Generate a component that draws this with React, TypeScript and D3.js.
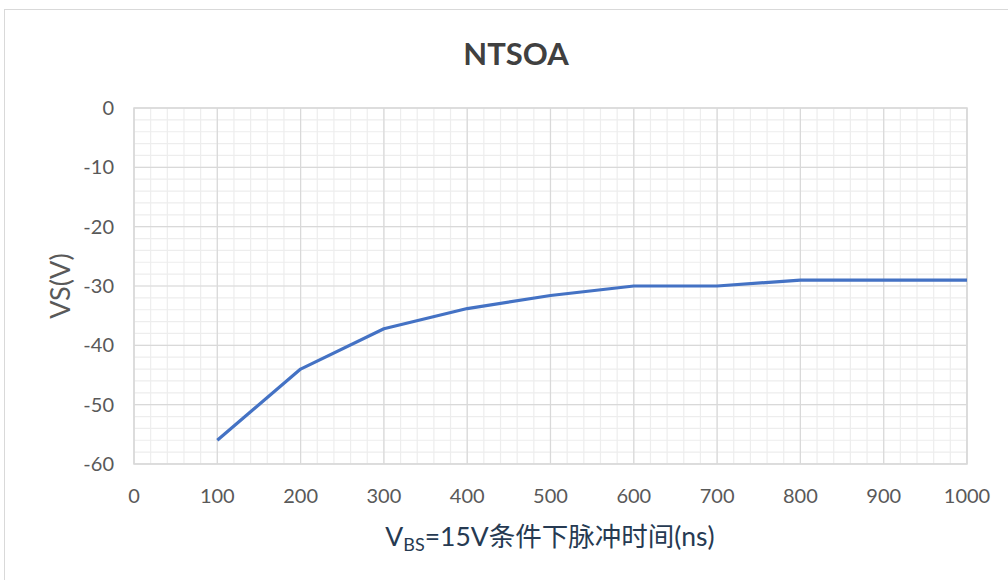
import React from "react";
import * as d3 from "d3";

const xValues = [100, 200, 300, 400, 500, 600, 700, 800, 900, 1000];
const vsValues = [-56, -44, -37.2, -33.8, -31.6, -30, -30, -29, -29, -29];
const xTicks = [0, 100, 200, 300, 400, 500, 600, 700, 800, 900, 1000];
const yTicks = [0, -10, -20, -30, -40, -50, -60];

export default function App() {
  const W = 1008, H = 580;
  const left = 134, right = 967, top = 108, bottom = 464;
  const x = d3.scaleLinear().domain([0, 1000]).range([left, right]);
  const y = d3.scaleLinear().domain([0, -60]).range([top, bottom]);
  const minorX = d3.range(0, 1001, 20);
  const minorY = d3.range(0, -61, -2);
  const line = d3.line<number>().x((_, i) => x(xValues[i])).y((d) => y(d));
  const font = "Lato, 'Open Sans', sans-serif";
  return (
    <svg width={W} height={H} style={{ position: "absolute", left: 0, top: 0 }}>
      <rect x={0} y={0} width={W} height={H} fill="#fff" />
      <rect x={4.5} y={9.5} width={W + 10} height={H + 10} fill="#fff" stroke="#d9d9d9" strokeWidth={1} />
      {minorX.map((v) => (
        <line key={"mx" + v} x1={x(v)} x2={x(v)} y1={top} y2={bottom} stroke="#ededed" strokeWidth={1.2} />
      ))}
      {minorY.map((v) => (
        <line key={"my" + v} x1={left} x2={right} y1={y(v)} y2={y(v)} stroke="#ededed" strokeWidth={1.2} />
      ))}
      {xTicks.map((v) => (
        <line key={"gx" + v} x1={x(v)} x2={x(v)} y1={top} y2={bottom} stroke="#d9d9d9" strokeWidth={1.2} />
      ))}
      {yTicks.map((v) => (
        <line key={"gy" + v} x1={left} x2={right} y1={y(v)} y2={y(v)} stroke="#d9d9d9" strokeWidth={1.2} />
      ))}
      <rect x={left} y={top} width={right - left} height={bottom - top} fill="none" stroke="#d9d9d9" strokeWidth={1.5} />
      <path d={line(vsValues) || ""} fill="none" stroke="#4472C4" strokeWidth={3.2} strokeLinejoin="round" />
      {xTicks.map((v) => (
        <text key={"tx" + v} x={x(v)} y={503} textAnchor="middle" fontFamily={font} fontSize={20} fill="#595959">
          {v}
        </text>
      ))}
      {yTicks.map((v) => (
        <text key={"ty" + v} x={114} y={y(v) + 7} textAnchor="end" fontFamily={font} fontSize={20} fill="#595959">
          {v}
        </text>
      ))}
      <text x={516} y={65} textAnchor="middle" fontFamily={font} fontSize={31} fontWeight="bold" fill="#404040">
        NTSOA
      </text>
      <text
        transform={`translate(70, ${(top + bottom) / 2}) rotate(-90)`}
        textAnchor="middle"
        fontFamily={font}
        fontSize={27}
        fill="#595959"
      >
        VS(V)
      </text>
      <text x={550} y={546} textAnchor="middle" fontFamily={font + ", 'Noto Sans CJK SC'"} fontSize={26.5} fill="#263a52">
        V<tspan fontSize={18} dy={5}>BS</tspan>
        <tspan dy={-5}>=15V条件下脉冲时间(ns)</tspan>
      </text>
    </svg>
  );
}
